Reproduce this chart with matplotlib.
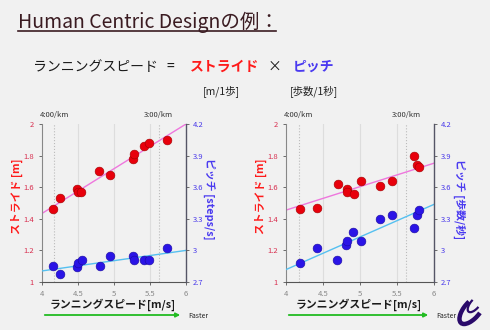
import numpy as np
import matplotlib
matplotlib.use("Agg")
import matplotlib.pyplot as plt
from matplotlib.lines import Line2D
from matplotlib.patches import FancyArrowPatch, Arc

plt.rcParams['font.family'] = ['Noto Sans CJK JP', 'DejaVu Sans']

# データ（スライドから読み取った値）
left_speed = [4.15, 4.25, 4.49, 4.50, 4.54, 4.79, 4.94, 5.26, 5.28, 5.42, 5.49, 5.73]
left_stride = [1.46, 1.53, 1.59, 1.57, 1.57, 1.70, 1.68, 1.78, 1.81, 1.86, 1.88, 1.90]
left_pitch_speed = [4.15, 4.25, 4.49, 4.50, 4.55, 4.80, 4.94, 5.26, 5.28, 5.42, 5.49, 5.73]
left_pitch = [2.85, 2.78, 2.84, 2.88, 2.91, 2.85, 2.95, 2.95, 2.91, 2.91, 2.91, 3.02]

right_speed = [4.19, 4.42, 4.70, 4.82, 4.83, 4.92, 5.02, 5.27, 5.43, 5.73, 5.77, 5.80]
right_stride = [1.46, 1.47, 1.62, 1.59, 1.57, 1.56, 1.64, 1.61, 1.64, 1.80, 1.74, 1.73]
right_pitch_speed = [4.19, 4.42, 4.69, 4.81, 4.83, 4.91, 5.02, 5.27, 5.43, 5.73, 5.77, 5.80]
right_pitch = [2.88, 3.02, 2.91, 3.05, 3.09, 3.17, 3.09, 3.30, 3.34, 3.21, 3.34, 3.38]

# 近似直線（x=4 と x=6 での値）
fit_x = [4, 6]
left_stride_fit = [1.434, 2.0]
left_pitch_fit = [2.805, 3.0]
right_stride_fit = [1.455, 1.752]
right_pitch_fit = [2.818, 3.437]

x_ticks = [4, 4.5, 5, 5.5, 6]
x_ticklabels = ["4", "4.5", "5", "5.5", "6"]
stride_ticks = [1, 1.2, 1.4, 1.6, 1.8, 2]
stride_ticklabels = ["1", "1.2", "1.4", "1.6", "1.8", "2"]
pitch_ticks = [2.7, 3.0, 3.3, 3.6, 3.9, 4.2]
pitch_ticklabels = ["2.7", "3", "3.3", "3.6", "3.9", "4.2"]
pace_speed = [4.17, 5.62]
pace_labels = ["4:00/km", "3:00/km"]

bg = '#f1f1f1'
red = '#e8000c'
blue = '#2a14e6'
red_txt = '#d83050'
blue_txt = '#4a3aea'

fig = plt.figure(figsize=(4.9, 3.3), dpi=100, facecolor=bg)

# タイトル
fig.text(18/490, 1 - 28/330, "Human Centric Designの例：", fontsize=14,
         color='#3b1c22', ha='left', va='baseline')
fig.add_artist(Line2D([18/490, 276/490], [1 - 31/330, 1 - 31/330],
                      color='#3b1c22', lw=1.2))

# 式
eq_y = 1 - 67/330
fig.text(33/490, eq_y, "ランニングスピード", fontsize=10, color='#1a1a1a', va='center')
fig.text(170/490, eq_y, "=", fontsize=10, color='#1a1a1a', va='center', ha='center')
fig.text(190/490, eq_y, "ストライド", fontsize=10, color='#ff1a1a', va='center', fontweight='bold')
fig.text(274/490, eq_y, "×", fontsize=10, color='#1a1a1a', va='center', ha='center')
fig.text(293/490, eq_y, "ピッチ", fontsize=10, color='#4a3af0', va='center', fontweight='bold')
fig.text(221/490, 1 - 91/330, "[m/1歩]", fontsize=7.5, color='#222222', va='center', ha='center')
fig.text(314/490, 1 - 91/330, "[歩数/1秒]", fontsize=7.5, color='#222222', va='center', ha='center')


def make_panel(left, width, spd, stride, pspd, pitch, s_fit, p_fit, pitch_label, lab_x):
    ax = fig.add_axes([left, 1 - 282/330, width, (282 - 124)/330])
    ax.set_facecolor(bg)
    ax.set_xlim(4, 6)
    ax.set_ylim(1, 2)
    ax2 = ax.twinx()
    ax2.set_ylim(2.7, 4.2)

    for xv in x_ticks[1:-1]:
        ax.axvline(xv, color='#dddddd', lw=0.8, zorder=0)
    for xv, lab in zip(pace_speed, pace_labels):
        ax.axvline(xv, color='#bbbbbb', lw=0.8, ls=':', zorder=0)
        ax.text(xv, 2.03, lab, fontsize=5.5, color='#333333', ha='center', va='bottom')

    ax.plot(fit_x, s_fit, color='#ee77dd', lw=1, zorder=2)
    ax.scatter(spd, stride, s=40, color=red, edgecolor='#a00000', lw=0.4, zorder=3)
    ax2.plot(fit_x, p_fit, color='#55c0f0', lw=1, zorder=2)
    ax2.scatter(pspd, pitch, s=40, color=blue, edgecolor='#1a0aa0', lw=0.4, zorder=3)

    ax.set_xticks(x_ticks)
    ax.set_xticklabels(x_ticklabels, fontsize=5.5)
    ax.set_yticks(stride_ticks)
    ax.set_yticklabels(stride_ticklabels, fontsize=5.5)
    ax2.set_yticks(pitch_ticks)
    ax2.set_yticklabels(pitch_ticklabels, fontsize=5.5)
    ax.tick_params(axis='both', length=2, width=0.6, colors='#555555', pad=4)
    ax.tick_params(axis='x', labelcolor='#888888')
    ax.tick_params(axis='y', labelcolor=red_txt)
    ax2.tick_params(axis='y', length=2, width=0.6, colors='#555555', labelcolor=blue_txt, pad=3)

    for a in (ax, ax2):
        a.spines['top'].set_visible(False)
    ax.spines['right'].set_visible(False)
    ax.spines['left'].set_color('#888888')
    ax.spines['bottom'].set_color('#555555')
    ax2.spines['left'].set_visible(False)
    ax2.spines['bottom'].set_visible(False)
    ax2.spines['right'].set_color('#555566')
    ax2.spines['right'].set_linewidth(1.0)

    cx = left + width / 2 - 1/490
    fig.text(cx, 1 - 305/330, "ランニングスピード[m/s]", fontsize=7.8, fontweight='bold',
             color='#1a1a1a', ha='center', va='center')
    fig.text(left - 25/490, 1 - 196/330, "ストライド [m]", fontsize=7.8, fontweight='bold',
             color='#ff1a1a', rotation=90, ha='center', va='center')
    fig.text(lab_x, 1 - 199/330, pitch_label, fontsize=7.8, fontweight='bold',
             color='#4a3af0', rotation=270, ha='center', va='center')

    # Faster の矢印
    fig.add_artist(FancyArrowPatch(
        (left, 1 - 315/330), (left + width - 3/490, 1 - 315/330),
        transform=fig.transFigure, arrowstyle='-|>', mutation_scale=6,
        color='#22bb22', lw=1.3))
    fig.text(left + width + 2/490, 1 - 316/330, "Faster", fontsize=5,
             style='italic', color='#222222', ha='left', va='center')
    return ax, ax2


make_panel(42/490, 144/490, left_speed, left_stride, left_pitch_speed, left_pitch,
           left_stride_fit, left_pitch_fit, "ピッチ [steps/s]", 209/490)
make_panel(286/490, 148/490, right_speed, right_stride, right_pitch_speed, right_pitch,
           right_stride_fit, right_pitch_fit, "ピッチ [歩数/秒]", 459/490)

# ロゴ（簡略）
logo = fig.add_axes([455/490, 0, 35/490, 45/330])
logo.set_xlim(0, 35)
logo.set_ylim(0, 45)
logo.axis('off')
logo.add_patch(Arc((17, 20), 16, 34, angle=-40, theta1=150, theta2=380,
                   color='#2a0a6a', lw=3.2))
logo.add_patch(Arc((20, 26), 9, 20, angle=-40, theta1=160, theta2=360,
                   color='#2a0a6a', lw=1.6))

fig.savefig("out.png", dpi=100, facecolor=bg)
